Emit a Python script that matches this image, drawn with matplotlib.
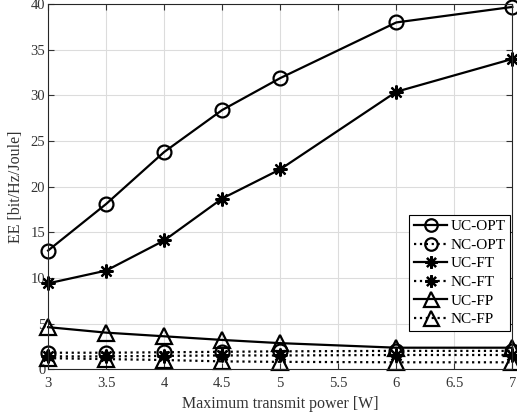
import matplotlib
matplotlib.use("Agg")
import matplotlib.pyplot as plt

power = [3, 3.5, 4, 4.5, 5, 6, 7]

uc_opt = [13.0, 18.1, 23.8, 28.4, 31.9, 38.0, 39.7]
nc_opt = [1.8, 1.8, 1.85, 1.9, 1.95, 2.0, 2.0]
uc_ft = [9.4, 10.8, 14.1, 18.7, 21.9, 30.4, 34.0]
nc_ft = [1.4, 1.4, 1.45, 1.5, 1.5, 1.55, 1.55]
uc_fp = [4.6, 4.0, 3.6, 3.2, 2.85, 2.35, 2.35]
nc_fp = [1.2, 1.1, 1.0, 0.85, 0.8, 0.75, 0.75]

names = ["UC-OPT", "NC-OPT", "UC-FT", "NC-FT", "UC-FP", "NC-FP"]
series = [uc_opt, nc_opt, uc_ft, nc_ft, uc_fp, nc_fp]
markers = ["o", "o", (8, 2, 0), (8, 2, 0), "^", "^"]
msizes = [10, 10, 10, 10, 12, 12]
styles = ["-", ":", "-", ":", "-", ":"]

plt.rcParams["font.family"] = ["Liberation Serif", "DejaVu Serif"]

fig = plt.figure(figsize=(5.17, 4.19), dpi=100)
ax = fig.add_axes([0.093, 0.119, 0.898, 0.871])

for y, name, m, ms, ls in zip(series, names, markers, msizes, styles):
    ax.plot(power, y, linestyle=ls, marker=m, color="black", linewidth=1.6,
            markersize=ms, markerfacecolor="none", markeredgewidth=1.6,
            label=name, clip_on=False)

ax.set_xlim(3, 7)
ax.set_ylim(0, 40)
ax.set_xticks([3, 3.5, 4, 4.5, 5, 5.5, 6, 6.5, 7])
ax.set_xticklabels(["3", "3.5", "4", "4.5", "5", "5.5", "6", "6.5", "7"])
ax.set_yticks(range(0, 41, 5))
ax.grid(True, color="#dcdcdc", linewidth=0.8)
ax.set_axisbelow(True)
ax.tick_params(direction="in", top=True, right=True, labelsize=10.5,
               colors="#333333", length=4)
ax.tick_params(axis="x", pad=6)
ax.tick_params(axis="y", pad=2)
for s in ax.spines.values():
    s.set_color("#262626")
    s.set_linewidth(0.8)

ax.set_xlabel("Maximum transmit power [W]", fontsize=11.5, color="#333333", labelpad=4)
ax.set_ylabel("EE [bit/Hz/Joule]", fontsize=11.5, color="#333333", labelpad=5)

leg = ax.legend(loc="lower right", bbox_to_anchor=(0.995, 0.105), fontsize=11,
                fancybox=False, edgecolor="black", framealpha=1,
                handlelength=2.2, handletextpad=0.2, labelspacing=0.32,
                borderpad=0.3, borderaxespad=0, markerscale=0.9)
leg.get_frame().set_linewidth(0.8)

fig.savefig("out.png", dpi=100)
